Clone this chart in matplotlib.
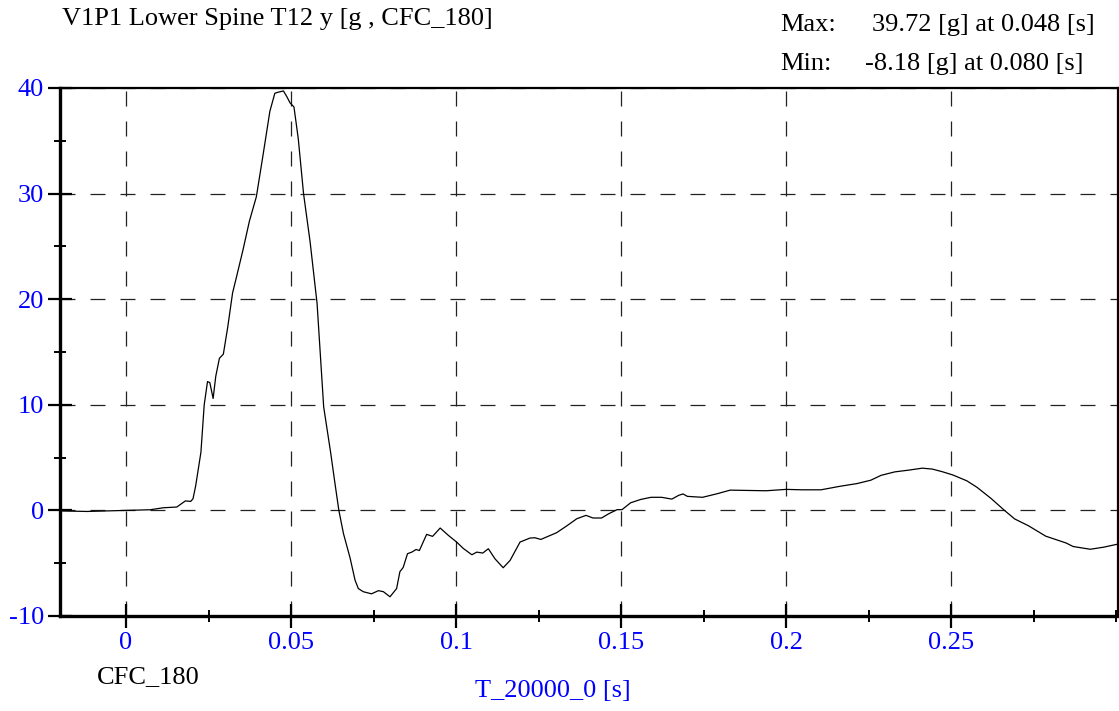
import matplotlib
matplotlib.use("Agg")
import matplotlib.pyplot as plt
from matplotlib.ticker import MultipleLocator

plt.rcParams['font.family'] = ['Liberation Serif', 'DejaVu Serif']

time_s = [-0.0195, -0.0118, 0.0, 0.0073, 0.0113, 0.0154, 0.0180, 0.0196, 0.0203, 0.0211,
          0.0227, 0.0237, 0.0247, 0.0254, 0.0264, 0.0272, 0.0283, 0.0295, 0.0308, 0.0323,
          0.0334, 0.0354, 0.0374, 0.0395, 0.0415, 0.0436, 0.0451, 0.0461, 0.0477, 0.0487,
          0.0497, 0.0509, 0.0522, 0.0538, 0.0558, 0.0579, 0.0599, 0.0620, 0.0633, 0.0645,
          0.0659, 0.0679, 0.0694, 0.0704, 0.0719, 0.0744, 0.0765, 0.0780, 0.0800, 0.0820,
          0.0830, 0.0840, 0.0853, 0.0866, 0.0879, 0.0889, 0.0911, 0.0929, 0.0952, 0.0977,
          0.1002, 0.1022, 0.1048, 0.1063, 0.1081, 0.1098, 0.1118, 0.1143, 0.1164, 0.1194,
          0.1224, 0.1239, 0.1257, 0.1305, 0.1335, 0.1366, 0.1394, 0.1415, 0.1441, 0.1462,
          0.1488, 0.1503, 0.1529, 0.1560, 0.1591, 0.1623, 0.1654, 0.1675, 0.1688, 0.1701,
          0.1747, 0.1789, 0.1831, 0.1883, 0.1940, 0.2000, 0.2049, 0.2106, 0.2163, 0.2215,
          0.2257, 0.2288, 0.2330, 0.2371, 0.2413, 0.2444, 0.2475, 0.2506, 0.2548, 0.2579,
          0.2621, 0.2662, 0.2693, 0.2735, 0.2787, 0.2849, 0.2870, 0.2922, 0.2963, 0.3006]

accel_g = [-0.05, -0.10, 0.0, 0.06, 0.25, 0.32, 0.90, 0.85, 1.1, 2.3,
           5.5, 10.0, 12.2, 12.1, 10.6, 12.7, 14.4, 14.8, 17.3, 20.6,
           22.0, 24.6, 27.4, 29.7, 33.6, 37.8, 39.5, 39.6, 39.72, 39.2,
           38.6, 38.2, 35.2, 30.0, 25.4, 19.6, 9.8, 5.5, 2.6, 0.0,
           -2.2, -4.5, -6.6, -7.4, -7.7, -7.9, -7.6, -7.7, -8.18, -7.4,
           -5.8, -5.4, -4.1, -3.95, -3.7, -3.8, -2.27, -2.46, -1.67, -2.37,
           -3.0, -3.6, -4.2, -3.95, -4.04, -3.63, -4.58, -5.43, -4.73, -3.0,
           -2.62, -2.59, -2.75, -2.11, -1.48, -0.79, -0.47, -0.72, -0.72, -0.33,
           0.07, 0.07, 0.72, 1.04, 1.24, 1.24, 1.07, 1.43, 1.56, 1.33,
           1.24, 1.56, 1.92, 1.89, 1.86, 1.99, 1.95, 1.95, 2.28, 2.54,
           2.86, 3.32, 3.65, 3.81, 4.0, 3.91, 3.65, 3.35, 2.8, 2.18,
           1.14, 0.0, -0.81, -1.46, -2.44, -3.09, -3.42, -3.68, -3.48, -3.19]

x_ticks = [0, 0.05, 0.1, 0.15, 0.2, 0.25]
x_ticklabels = ['0', '0.05', '0.1', '0.15', '0.2', '0.25']
y_ticks = [-10, 0, 10, 20, 30, 40]
y_ticklabels = ['-10', '0', '10', '20', '30', '40']

title = 'V1P1 Lower Spine T12 y [g , CFC_180]'
max_text = '39.72 [g] at 0.048 [s]'
min_text = '-8.18 [g] at 0.080 [s]'
x_label = 'T_20000_0 [s]'
filter_label = 'CFC_180'

W, H = 1119, 711
fig = plt.figure(figsize=(W / 100, H / 100), dpi=100)
ax = fig.add_axes([60 / W, 1 - 616 / H, (1118 - 60) / W, (616 - 88) / H])

ax.plot(time_s, accel_g, color='black', lw=0.9, zorder=3)

ax.set_xlim(-0.02, 0.3006)
ax.set_ylim(-10, 40)

ax.set_xticks(x_ticks)
ax.set_xticklabels(x_ticklabels)
ax.set_yticks(y_ticks)
ax.set_yticklabels(y_ticklabels)
ax.xaxis.set_minor_locator(MultipleLocator(0.025))
ax.yaxis.set_minor_locator(MultipleLocator(5))

fs = 19
ax.tick_params(which='major', direction='inout', length=17, width=1.6,
               labelsize=fs, labelcolor='#0000FF', pad=3)
ax.tick_params(which='minor', direction='inout', length=9, width=1.4)
ax.tick_params(top=False, right=False, which='both')

ax.grid(True, which='major', color='#222222', linestyle=(0, (12, 12)), linewidth=0.9)

for side in ['left', 'bottom']:
    ax.spines[side].set_linewidth(2.4)
for side in ['top', 'right']:
    ax.spines[side].set_linewidth(1.6)

fig.text(62 / W, 1 - 19 / H, title, fontsize=fs, ha='left', va='center', color='black')
fig.text(780 / W, 1 - 25 / H, 'Max:', fontsize=fs, ha='left', va='center')
fig.text(872 / W, 1 - 25 / H, max_text, fontsize=fs, ha='left', va='center')
fig.text(780 / W, 1 - 64 / H, 'Min:', fontsize=fs, ha='left', va='center')
fig.text(865 / W, 1 - 64 / H, min_text, fontsize=fs, ha='left', va='center')
fig.text(97 / W, 1 - 677 / H, filter_label, fontsize=fs, ha='left', va='center')
fig.text(553 / W, 1 - 691 / H, x_label, fontsize=fs, ha='center', va='center', color='#0000FF')

fig.savefig('out.png', dpi=100)
